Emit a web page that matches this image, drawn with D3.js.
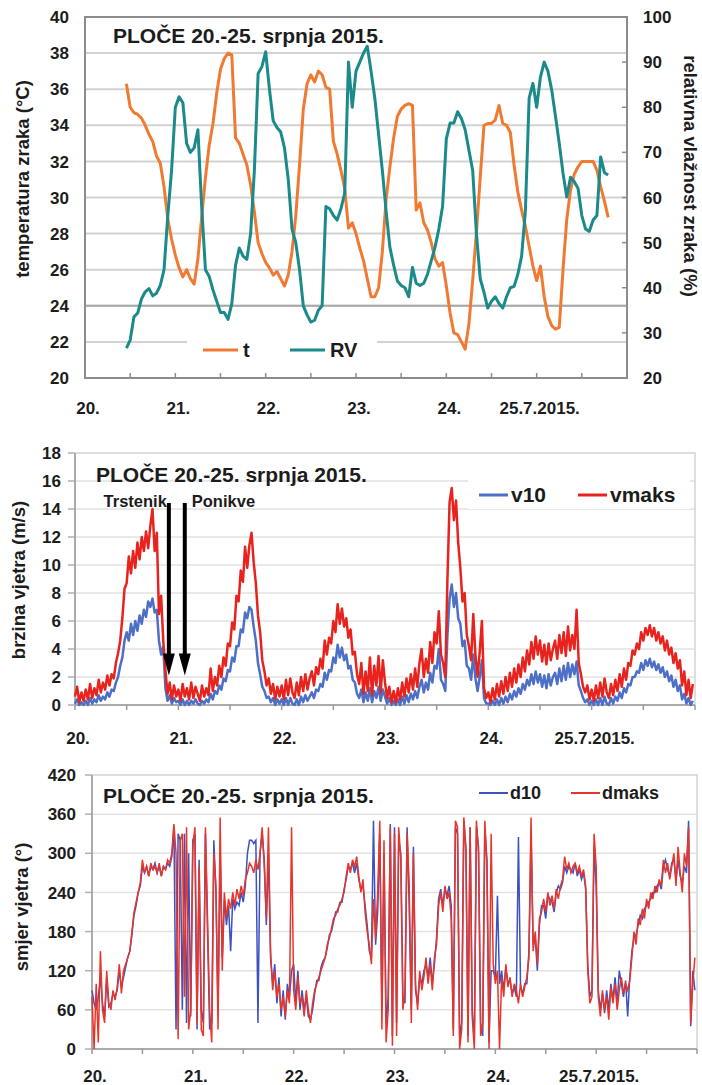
<!DOCTYPE html>
<html>
<head>
<meta charset="utf-8">
<script src="https://cdn.jsdelivr.net/npm/d3@7"></script>
<style>
body{margin:0;background:#fff;}
svg text{font-family:"Liberation Sans",Arial,sans-serif;font-weight:bold;fill:#1c1c1c;}
</style>
</head>
<body>
<script>
// ---- data ----
const dayLabels = ["20.","21.","22.","23.","24.","25.7.2015."];
const titleText = "PLOČE 20.-25. srpnja 2015.";

// panel 1: hourly values, first one at 20.7. 11:00
const hourStart = 11;
const temp = [
36.3,35.0,34.7,34.6,34.4,34.0,33.5,33.1,32.3,31.9,
30.6,28.8,27.7,26.8,26.1,25.6,26.0,25.5,25.2,26.6,
28.9,31.1,32.9,34.1,35.8,37.1,37.7,38.0,37.9,33.3,
33.0,32.4,31.8,30.7,29.2,27.5,26.9,26.4,26.1,25.7,
25.9,25.5,25.1,25.7,27.0,29.0,31.8,34.9,36.3,36.8,
36.4,37.0,36.8,36.1,36.0,33.1,32.4,31.5,30.5,28.3,
28.6,28.0,27.2,26.5,25.5,24.5,24.5,25.0,27.0,29.9,
31.7,33.3,34.5,34.9,35.1,35.2,35.1,29.3,29.7,28.6,
28.2,27.5,26.6,26.2,26.4,25.1,23.6,22.5,22.4,22.0,
21.6,23.0,25.4,28.1,31.1,34.0,34.1,34.1,34.3,35.1,
34.1,34.0,33.6,31.8,30.3,29.3,28.4,27.3,26.2,25.4,
26.2,24.5,23.4,22.9,22.7,22.8,26.0,28.8,30.4,31.3,
31.7,32.0,32.0,32.0,32.0,31.5,30.6,29.8,28.9];
const humidity = [
26.6,28.4,33.5,34.4,37.5,39.1,39.8,38.2,38.8,40.5,
44.0,56.0,66.0,80.0,82.3,81.0,72.0,70.0,71.0,75.0,
58.0,44.0,42.5,39.5,37.0,34.5,34.5,33.0,36.5,45.0,
48.8,47.0,46.3,52.0,66.0,87.5,89.0,92.3,84.0,77.0,
75.5,74.5,71.0,64.0,53.0,50.0,44.0,36.0,34.0,32.4,
32.8,35.0,36.0,58.0,57.5,56.0,55.0,57.5,61.0,90.0,
80.0,88.0,90.0,92.0,93.5,88.0,82.0,74.0,66.0,57.0,
49.0,45.0,41.5,40.5,40.0,38.0,44.5,41.0,40.5,41.0,
43.0,46.0,49.0,53.0,58.0,73.0,76.5,76.5,79.0,77.5,
75.0,70.5,66.0,52.0,42.0,39.0,35.5,37.0,38.0,36.5,
35.5,38.0,40.0,40.3,43.0,47.0,57.0,82.0,85.3,80.0,
86.7,90.0,88.0,83.8,78.0,72.0,65.4,60.1,64.5,63.5,
62.0,56.0,53.0,52.5,55.0,56.0,69.0,65.5,65.0];

// panels 2 and 3: half-hourly values from 20.7. 00:00
const stepHours = 0.5;
const v10 = [
0.1,0.4,0.0,0.2,0.0,0.3,0.0,0.5,0.1,0.4,0.2,0.7,0.3,0.6,0.4,0.9,0.6,1.1,1.0,1.6,2.0,2.8,3.4,4.6,
5.2,4.6,5.8,5.0,6.0,5.3,6.4,5.8,6.8,6.3,7.4,7.0,7.6,6.6,6.8,4.6,3.6,4.2,1.2,0.3,0.7,0.1,0.5,0.2,
0.3,0.0,0.4,0.0,0.3,0.0,0.3,0.1,0.4,0.1,0.0,0.3,0.1,0.4,0.2,0.8,0.4,1.0,0.8,1.4,1.1,1.9,1.7,2.5,
2.4,3.4,3.1,4.2,4.2,5.4,5.2,6.6,6.2,7.0,6.8,5.6,4.6,3.0,2.2,1.3,1.0,0.5,0.6,0.2,0.5,0.0,0.4,0.1,
0.4,0.0,0.5,0.0,0.5,0.1,0.0,0.4,0.0,0.6,0.2,0.7,0.3,0.6,0.9,0.5,1.1,1.0,1.5,1.3,2.3,1.8,2.5,2.4,
3.4,3.0,4.3,3.4,4.1,3.2,3.6,2.6,2.8,1.8,1.6,0.8,0.5,1.1,0.2,0.9,0.3,1.2,0.2,1.0,0.5,1.3,0.3,1.1,
0.6,0.1,0.5,0.0,0.3,0.0,0.4,0.0,0.6,0.1,0.7,0.2,0.8,0.4,1.0,0.5,1.3,1.8,0.9,1.6,1.1,2.3,1.6,2.8,
2.6,4.0,1.8,1.5,1.0,5.0,7.6,8.6,7.0,8.0,6.2,5.8,4.2,4.6,2.8,2.6,1.8,3.6,1.9,1.0,2.0,3.2,0.5,0.1,
0.1,0.0,0.3,0.0,0.4,0.0,0.5,0.1,0.6,0.2,0.8,0.4,1.0,0.6,1.2,0.8,1.5,1.1,1.8,1.4,2.2,1.5,2.4,1.6,
2.2,1.3,2.1,1.2,2.2,1.4,2.0,2.3,1.5,2.6,1.7,2.8,1.8,3.0,2.0,2.9,2.2,3.1,1.4,1.0,0.5,0.2,0.4,0.0,
0.3,0.0,0.4,0.0,0.5,0.0,0.6,0.1,0.0,0.5,0.1,0.6,0.3,0.9,0.5,1.2,0.9,1.5,1.4,2.0,2.0,2.4,2.3,3.0,
2.5,3.2,2.8,3.3,2.7,3.1,2.5,2.9,2.3,2.7,2.0,2.4,1.7,2.1,1.3,1.8,1.0,1.4,0.4,0.8,0.1,0.5,0.0,0.3];
const vmaks = [
0.6,1.3,0.2,0.9,0.3,1.1,0.4,1.5,0.5,1.2,0.7,1.8,0.9,1.6,1.1,2.1,1.4,2.2,1.9,3.0,3.7,4.6,6.2,8.3,
8.7,10.6,9.4,11.0,9.8,11.6,10.4,12.0,11.0,12.4,11.2,12.8,14.0,11.0,12.3,6.5,7.8,4.6,2.5,0.8,1.6,0.4,1.4,0.6,
1.1,0.3,1.5,0.6,1.2,0.4,1.6,0.5,1.3,0.8,0.3,1.4,0.6,1.2,0.7,2.6,1.0,2.0,1.4,2.8,2.0,3.4,2.8,4.4,
4.2,5.9,5.4,7.8,7.4,9.6,8.8,11.3,9.8,11.4,12.3,10.2,8.7,6.4,5.2,3.2,2.4,1.4,1.9,0.8,1.5,0.4,1.3,0.6,
1.4,0.4,1.8,0.7,1.9,0.9,0.5,1.6,0.7,2.0,1.0,2.2,1.1,1.9,2.4,1.4,2.7,2.2,3.3,2.6,4.6,3.6,4.8,4.4,
6.0,5.2,7.2,5.8,6.9,5.6,6.2,4.8,5.4,3.6,3.8,2.2,1.5,3.0,0.8,2.4,1.0,3.4,0.7,2.8,1.4,3.5,0.9,3.2,
1.6,0.5,1.3,0.2,1.0,0.2,1.2,0.4,1.6,0.6,1.9,0.9,2.2,1.1,2.6,1.3,3.0,4.0,2.0,3.3,2.3,4.5,3.0,5.2,
4.4,6.7,3.6,3.0,2.0,9.0,14.5,15.5,13.2,14.6,11.6,9.8,7.4,8.0,5.0,4.2,3.2,6.5,3.6,2.0,3.8,6.0,1.2,0.5,
0.9,0.2,1.2,0.4,1.5,0.6,1.7,0.8,2.0,1.0,2.3,1.3,2.6,1.6,2.9,2.0,3.4,2.4,3.9,2.9,4.5,3.3,4.9,3.6,
4.6,3.1,4.3,2.9,4.4,3.2,4.0,4.6,3.3,5.0,3.7,5.2,3.5,5.6,3.9,5.0,4.0,6.8,3.0,2.2,1.3,0.9,1.4,0.4,
1.1,0.3,1.4,0.5,1.6,0.6,1.9,0.9,0.5,1.5,0.7,1.8,1.0,2.2,1.3,2.6,1.8,3.0,2.8,3.9,3.6,4.4,4.0,5.2,
4.6,5.5,5.0,5.7,4.9,5.5,4.6,5.2,4.4,4.9,3.9,4.6,3.6,4.1,3.0,3.7,2.6,3.2,1.4,2.4,0.7,1.8,0.5,1.5];
const d10 = [
90,70,60,80,110,70,50,110,65,70,85,80,90,120,95,110,125,140,150,175,205,220,240,250,
280,270,280,265,280,275,285,270,280,265,280,275,285,280,295,340,30,330,320,60,330,40,300,50,
320,330,30,290,60,40,330,180,30,40,320,240,60,300,140,230,190,220,150,230,215,225,220,240,
225,250,300,320,320,315,320,40,300,330,290,190,300,140,100,130,70,110,50,90,45,100,80,120,
130,70,120,60,90,60,80,50,45,60,85,105,105,125,135,140,155,175,180,195,210,210,225,225,
245,260,280,275,285,270,285,260,245,250,220,190,150,140,350,160,210,330,60,300,40,80,345,20,
340,40,320,300,80,70,340,220,60,310,90,70,110,100,120,130,110,140,100,130,170,230,245,220,
245,235,250,220,30,340,330,20,40,350,310,20,340,60,10,340,310,40,20,340,290,10,120,120,
110,235,100,120,90,125,100,105,85,95,80,325,95,85,100,100,150,330,160,170,120,190,220,220,
200,235,230,225,210,240,250,245,255,280,270,280,275,270,285,265,275,260,270,245,130,80,90,310,
250,90,60,85,55,90,60,100,75,110,70,120,100,80,105,50,110,150,170,175,190,205,200,215,
220,225,230,240,240,250,255,245,280,290,275,265,285,290,260,290,265,255,280,270,350,35,120,90];
const dmaks = [
80,0,100,10,150,60,40,120,70,60,90,75,95,130,85,120,130,140,150,180,210,225,240,255,
290,270,280,265,285,275,280,270,285,265,280,275,290,285,300,345,300,15,320,330,80,340,30,60,
310,340,40,280,30,20,340,200,60,10,300,250,30,355,120,240,200,230,215,240,220,245,230,250,
235,260,270,285,280,270,290,275,300,340,280,200,340,150,90,120,80,100,60,80,50,90,70,340,
90,60,110,70,80,50,90,60,40,70,90,100,110,120,130,140,160,170,185,200,205,215,220,230,
240,265,285,270,290,280,295,265,240,260,210,180,160,130,230,170,240,350,30,320,10,60,340,5,
330,20,340,290,60,90,330,250,40,300,100,60,120,90,110,140,100,130,90,140,160,220,240,210,
250,230,240,200,20,350,340,0,30,355,300,10,340,50,0,350,300,20,40,350,280,0,330,130,
100,120,0,110,80,130,95,110,80,100,90,70,100,80,95,110,140,355,150,180,130,200,210,230,
210,240,220,235,215,245,230,250,260,295,275,285,270,280,285,270,280,265,275,250,120,70,80,330,
280,80,50,90,60,80,45,95,70,100,60,90,110,85,100,90,105,140,180,160,200,190,215,200,
230,215,240,230,250,240,260,250,290,270,285,260,280,300,250,310,270,240,300,280,340,40,100,140];

// arrows in the wind speed panel (hours after 20.7. 00:00)
const arrows = [{label:"Trstenik", hour:21.8}, {label:"Ponikve", hour:25.5}];

// ---- drawing ----
const svg = d3.select("body").append("svg")
    .attr("width", 702)
    .attr("height", 1085);

const dayTicks = [0,24,48,72,96,120];
const halfDays = d3.range(0,145,12);

function xLabels(g, x, baseline){
    g.selectAll(".xl").data(dayTicks).join("text")
        .attr("x", (d)=>x(d)+3)
        .attr("y", baseline)
        .attr("text-anchor","middle")
        .attr("font-size","17px")
        .text((d,i)=>dayLabels[i]);
}

function grid(g, y, values, x0, x1, color, w){
    g.selectAll(null).data(values).join("line")
        .attr("x1", x0).attr("x2", x1)
        .attr("y1", (d)=>y(d)).attr("y2", (d)=>y(d))
        .attr("stroke", color).attr("stroke-width", w);
}

// ===== panel 1: temperature and humidity =====
const p1 = {left:85, right:627, top:17, bottom:378};
const x1 = d3.scaleLinear().domain([0,144]).range([p1.left,p1.right]);
const yT = d3.scaleLinear().domain([20,40]).range([p1.bottom,p1.top]);
const yRV = d3.scaleLinear().domain([20,100]).range([p1.bottom,p1.top]);
const g1 = svg.append("g");

grid(g1, yT, d3.range(22,40,2), p1.left, p1.right, "#d2d2d2", 2);
g1.selectAll(null).data([24]).join("line")
    .attr("x1",p1.left).attr("x2",p1.right)
    .attr("y1",(d)=>yT(d)).attr("y2",(d)=>yT(d))
    .attr("stroke","#a8a8a8").attr("stroke-width",2);

// legend box hides the grid
g1.append("rect").attr("x",187).attr("y",334).attr("width",190).attr("height",32).attr("fill","#fff");

g1.append("rect")
    .attr("x",p1.left).attr("y",p1.top)
    .attr("width",p1.right-p1.left).attr("height",p1.bottom-p1.top)
    .attr("fill","none").attr("stroke","#8c8c8c").attr("stroke-width",2);

// inner ticks
g1.selectAll(null).data(halfDays).join("line")
    .attr("x1",(d)=>x1(d)).attr("x2",(d)=>x1(d))
    .attr("y1",p1.bottom).attr("y2",p1.bottom-5)
    .attr("stroke","#8c8c8c").attr("stroke-width",1.5);
g1.selectAll(null).data(d3.range(30,100,10)).join("line")
    .attr("x1",p1.right).attr("x2",p1.right-5)
    .attr("y1",(d)=>yRV(d)).attr("y2",(d)=>yRV(d))
    .attr("stroke","#8c8c8c").attr("stroke-width",1.5);

g1.selectAll(".yl").data(d3.range(20,41,2)).join("text")
    .attr("x",69).attr("y",(d)=>yT(d)).attr("dy","0.36em")
    .attr("text-anchor","end").attr("font-size","17px")
    .text((d)=>d);
g1.selectAll(".yr").data(d3.range(20,101,10)).join("text")
    .attr("x",643).attr("y",(d)=>yRV(d)).attr("dy","0.36em")
    .attr("font-size","17px")
    .text((d)=>d);
xLabels(g1.append("g"), x1, 414);

g1.append("text")
    .attr("transform","translate(29,179) rotate(-90)")
    .attr("text-anchor","middle").attr("font-size","18.5px")
    .text("temperatura zraka (°C)");
g1.append("text")
    .attr("transform","translate(684,176) rotate(90)")
    .attr("text-anchor","middle").attr("font-size","18.5px")
    .text("relativna vlažnost zraka (%)");

const lineT = d3.line().x((d,i)=>x1(hourStart+i)).y((d)=>yT(d));
const lineRV = d3.line().x((d,i)=>x1(hourStart+i)).y((d)=>yRV(d));
g1.append("path").datum(temp).attr("d",lineT)
    .attr("fill","none").attr("stroke","#f07a32").attr("stroke-width",3).attr("stroke-linejoin","round");
g1.append("path").datum(humidity).attr("d",lineRV)
    .attr("fill","none").attr("stroke","#1b8a8a").attr("stroke-width",3).attr("stroke-linejoin","round");

g1.append("text").attr("x",113).attr("y",43).attr("font-size","21px").text(titleText);

const leg1 = [{name:"t", color:"#f07a32", x:203}, {name:"RV", color:"#1b8a8a", x:290}];
leg1.forEach((d)=>{
    g1.append("line").attr("x1",d.x).attr("x2",d.x+35).attr("y1",350).attr("y2",350)
        .attr("stroke",d.color).attr("stroke-width",3);
    g1.append("text").attr("x",d.x+40).attr("y",357).attr("font-size","20px").text(d.name);
});

// ===== panel 2: wind speed =====
const p2 = {left:75, right:695, top:453, bottom:705};
const x2 = d3.scaleLinear().domain([0,144]).range([p2.left,p2.right]);
const yV = d3.scaleLinear().domain([0,18]).range([p2.bottom,p2.top]);
const g2 = svg.append("g");

grid(g2, yV, d3.range(2,18,2), p2.left, p2.right, "#e2e2e2", 1.5);
g2.selectAll(null).data(d3.range(0,19,2)).join("line")
    .attr("x1",p2.left-7).attr("x2",p2.left)
    .attr("y1",(d)=>yV(d)).attr("y2",(d)=>yV(d))
    .attr("stroke","#b0b0b0").attr("stroke-width",1.5);
g2.append("rect").attr("x",468).attr("y",480).attr("width",222).attr("height",29).attr("fill","#fff");
g2.append("rect")
    .attr("x",p2.left).attr("y",p2.top)
    .attr("width",p2.right-p2.left).attr("height",p2.bottom-p2.top)
    .attr("fill","none").attr("stroke","#d4d4d4").attr("stroke-width",1.5);
g2.append("line").attr("x1",p2.left).attr("x2",p2.left).attr("y1",p2.top).attr("y2",p2.bottom)
    .attr("stroke","#9a9a9a").attr("stroke-width",1.5);
g2.append("line").attr("x1",p2.left).attr("x2",p2.right).attr("y1",p2.bottom).attr("y2",p2.bottom)
    .attr("stroke","#9a9a9a").attr("stroke-width",1.5);
g2.selectAll(null).data(halfDays).join("line")
    .attr("x1",(d)=>x2(d)).attr("x2",(d)=>x2(d))
    .attr("y1",p2.bottom).attr("y2",p2.bottom+5)
    .attr("stroke","#9a9a9a").attr("stroke-width",1.5);

g2.selectAll(".yl").data(d3.range(0,19,2)).join("text")
    .attr("x",61).attr("y",(d)=>yV(d)).attr("dy","0.36em")
    .attr("text-anchor","end").attr("font-size","17px")
    .text((d)=>d);
xLabels(g2.append("g"), x2, 744);
g2.append("text")
    .attr("transform","translate(25,580) rotate(-90)")
    .attr("text-anchor","middle").attr("font-size","18.5px")
    .text("brzina vjetra (m/s)");

const lineV = d3.line().x((d,i)=>x2(i*stepHours)).y((d)=>yV(d));
g2.append("path").datum(v10).attr("d",lineV)
    .attr("fill","none").attr("stroke","#4d6fc8").attr("stroke-width",2.5).attr("stroke-linejoin","round");
g2.append("path").datum(vmaks).attr("d",lineV)
    .attr("fill","none").attr("stroke","#e8231e").attr("stroke-width",2.5).attr("stroke-linejoin","round");

g2.append("text").attr("x",96).attr("y",482).attr("font-size","21px").text(titleText);

const leg2 = [{name:"v10", color:"#4d6fc8", x:479}, {name:"vmaks", color:"#e8231e", x:578}];
leg2.forEach((d)=>{
    g2.append("line").attr("x1",d.x).attr("x2",d.x+29).attr("y1",495).attr("y2",495)
        .attr("stroke",d.color).attr("stroke-width",3);
    g2.append("text").attr("x",d.x+32).attr("y",502).attr("font-size","21px").text(d.name);
});

// arrows
arrows.forEach((a,i)=>{
    const ax = x2(a.hour);
    const tip = yV(2.1);
    g2.append("line").attr("x1",ax).attr("x2",ax).attr("y1",503).attr("y2",tip-18)
        .attr("stroke","#000").attr("stroke-width",4);
    g2.append("path")
        .attr("d",`M${ax-6},${tip-22}L${ax+6},${tip-22}L${ax},${tip}Z`)
        .attr("fill","#000");
    g2.append("text")
        .attr("x", i==0 ? ax-2 : ax+7)
        .attr("y",507)
        .attr("text-anchor", i==0 ? "end" : "start")
        .attr("font-size","16.5px")
        .text(a.label);
});

// ===== panel 3: wind direction =====
const p3 = {left:92, right:697, top:775, bottom:1049};
const x3 = d3.scaleLinear().domain([0,144]).range([p3.left,p3.right]);
const yD = d3.scaleLinear().domain([0,420]).range([p3.bottom,p3.top]);
const g3 = svg.append("g");

grid(g3, yD, d3.range(60,420,60), p3.left, p3.right, "#e2e2e2", 1.5);
g3.selectAll(null).data(d3.range(0,421,60)).join("line")
    .attr("x1",p3.left-7).attr("x2",p3.left)
    .attr("y1",(d)=>yD(d)).attr("y2",(d)=>yD(d))
    .attr("stroke","#b0b0b0").attr("stroke-width",1.5);
g3.append("rect")
    .attr("x",p3.left).attr("y",p3.top)
    .attr("width",p3.right-p3.left).attr("height",p3.bottom-p3.top)
    .attr("fill","none").attr("stroke","#d4d4d4").attr("stroke-width",1.5);
g3.append("line").attr("x1",p3.left).attr("x2",p3.left).attr("y1",p3.top).attr("y2",p3.bottom)
    .attr("stroke","#9a9a9a").attr("stroke-width",1.5);
g3.append("line").attr("x1",p3.left).attr("x2",p3.right).attr("y1",p3.bottom).attr("y2",p3.bottom)
    .attr("stroke","#9a9a9a").attr("stroke-width",1.5);
g3.selectAll(null).data(halfDays).join("line")
    .attr("x1",(d)=>x3(d)).attr("x2",(d)=>x3(d))
    .attr("y1",p3.bottom).attr("y2",p3.bottom+5)
    .attr("stroke","#9a9a9a").attr("stroke-width",1.5);

g3.selectAll(".yl").data(d3.range(0,421,60)).join("text")
    .attr("x",76).attr("y",(d)=>yD(d)).attr("dy","0.36em")
    .attr("text-anchor","end").attr("font-size","17px")
    .text((d)=>d);
xLabels(g3.append("g"), x3, 1082);
g3.append("text")
    .attr("transform","translate(28,907) rotate(-90)")
    .attr("text-anchor","middle").attr("font-size","18.5px")
    .text("smjer vjetra (°)");

const lineD = d3.line().x((d,i)=>x3(i*stepHours)).y((d)=>yD(d));
g3.append("path").datum(d10).attr("d",lineD)
    .attr("fill","none").attr("stroke","#3c52c0").attr("stroke-width",1.5);
g3.append("path").datum(dmaks).attr("d",lineD)
    .attr("fill","none").attr("stroke","#e8352a").attr("stroke-width",1.5);

g3.append("text").attr("x",103).attr("y",803).attr("font-size","21px").text(titleText);

const leg3 = [{name:"d10", color:"#3c52c0", x:479}, {name:"dmaks", color:"#e8352a", x:571}];
leg3.forEach((d)=>{
    g3.append("line").attr("x1",d.x).attr("x2",d.x+29).attr("y1",793).attr("y2",793)
        .attr("stroke",d.color).attr("stroke-width",2);
    g3.append("text").attr("x",d.x+31).attr("y",799).attr("font-size","18px").text(d.name);
});
</script>
</body>
</html>
